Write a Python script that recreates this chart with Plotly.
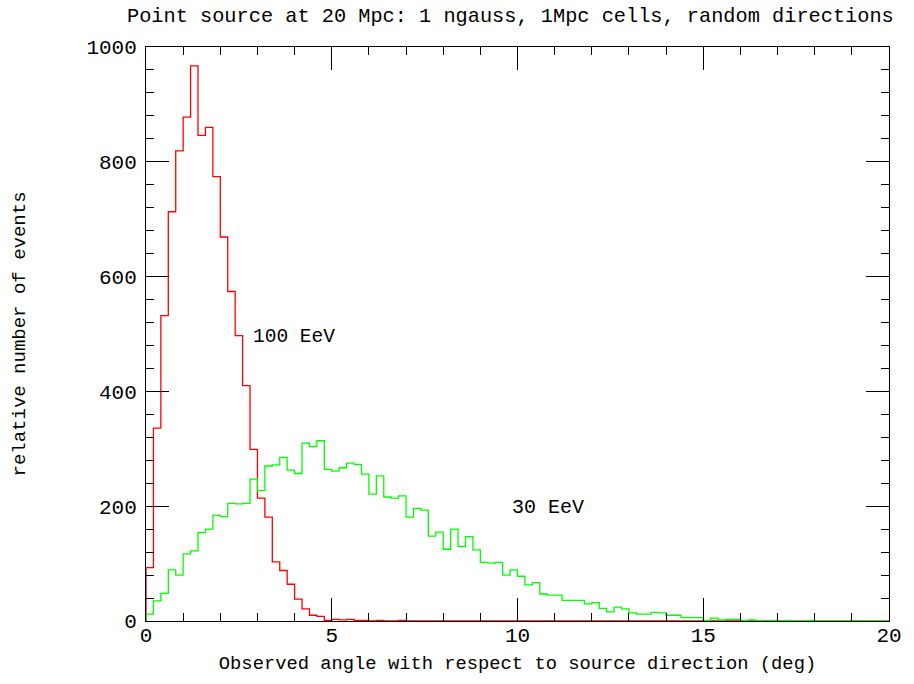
import plotly.graph_objects as go

bin_width = 0.2
red_100eev = [93, 336, 532, 713, 819, 878, 967, 846, 860, 774,
              669, 574, 497, 410, 299, 214, 181, 103, 88, 64,
              38, 21, 10, 8, 1, 3, 2, 3, 1, 1,
              0, 1, 0, 0, 1, 0, 0, 0, 0, 0,
              0, 0, 0, 0, 0, 0, 0, 0, 0, 0,
              0, 0, 0, 0, 0, 0, 0, 0, 0, 0,
              0, 0, 0, 0, 0, 0, 0, 0, 0, 0,
              0, 0, 0, 0, 0, 0, 0, 0, 0, 0,
              0, 0, 0, 0, 0, 0, 0, 0, 0, 0,
              0, 0, 0, 0, 0, 0, 0, 0, 0, 0]
green_30eev = [12, 35, 48, 89, 80, 117, 122, 154, 160, 184,
               182, 205, 204, 205, 247, 227, 270, 272, 285, 263,
               257, 310, 304, 314, 264, 261, 267, 275, 273, 256,
               221, 253, 216, 214, 218, 181, 196, 193, 148, 155,
               125, 160, 130, 147, 124, 102, 101, 102, 80, 89,
               78, 63, 67, 47, 45, 45, 36, 36, 36, 30,
               32, 22, 16, 24, 21, 14, 12, 12, 15, 14,
               10, 10, 6, 6, 6, 1, 5, 2, 3, 3,
               1, 2, 1, 0, 1, 0, 1, 0, 0, 1,
               0, 0, 0, 0, 0, 0, 0, 0, 0, 0]
x_ticks = [0, 5, 10, 15, 20]
y_ticks = [0, 200, 400, 600, 800, 1000]

def step_xy(vals):
    edges = [round(i * bin_width, 4) for i in range(len(vals) + 1)]
    xs = [0.0] + edges
    ys = [0] + list(vals) + [vals[-1]]
    return xs, ys

fig = go.Figure()
for vals, col in [(red_100eev, "#ff0000"), (green_30eev, "#00ff00")]:
    xs, ys = step_xy(vals)
    fig.add_trace(go.Scatter(x=xs, y=ys, mode="lines", line=dict(color=col, width=1.3, shape="hv"),
                             showlegend=False, hoverinfo="skip"))

font_family = "Liberation Mono"
axis_common = dict(showgrid=False, zeroline=False, showline=True, linecolor="black", linewidth=1,
                   mirror="allticks", ticks="inside", ticklen=23, tickwidth=1, tickcolor="black",
                   tickfont=dict(family=font_family, size=21, color="black"))

fig.update_xaxes(range=[0, 20], tickvals=x_ticks, ticktext=[str(v) for v in x_ticks],
                 minor=dict(dtick=1, ticks="inside", ticklen=8, tickcolor="black", tickwidth=1),
                 ticklabelstandoff=-5,
                 title=dict(text="Observed angle with respect to source direction (deg)",
                            font=dict(family=font_family, size=18.8, color="black"), standoff=8),
                 **axis_common)
fig.update_yaxes(range=[0, 1000], tickvals=y_ticks, ticktext=[str(v) for v in y_ticks],
                 minor=dict(dtick=40, ticks="inside", ticklen=8, tickcolor="black", tickwidth=1),
                 ticklabelstandoff=4,
                 title=dict(text="relative number of events",
                            font=dict(family=font_family, size=19, color="black"), standoff=55),
                 **axis_common)

fig.add_annotation(x=2.82, y=495, text="100 EeV", showarrow=False, xanchor="left", yanchor="middle",
                   font=dict(family=font_family, size=19.5, color="black"))
fig.add_annotation(x=9.81, y=197, text="30 EeV", showarrow=False, xanchor="left", yanchor="middle",
                   font=dict(family=font_family, size=20, color="black"))
fig.add_annotation(xref="paper", yref="paper", x=1.009, y=1.054, xanchor="right", yanchor="middle",
                   text="Point source at 20 Mpc: 1 ngauss, 1Mpc cells, random directions",
                   showarrow=False, font=dict(family=font_family, size=20.3, color="black"))

fig.update_layout(
    width=914, height=684, autosize=False,
    margin=dict(l=146, r=16, t=47, b=63),
    paper_bgcolor="white", plot_bgcolor="white",
)

fig.write_html("out.html", config={"displayModeBar": False},
               post_script="document.documentElement.style.overflow='hidden';"
                           "document.body.style.margin='0';document.body.style.overflow='hidden';")
